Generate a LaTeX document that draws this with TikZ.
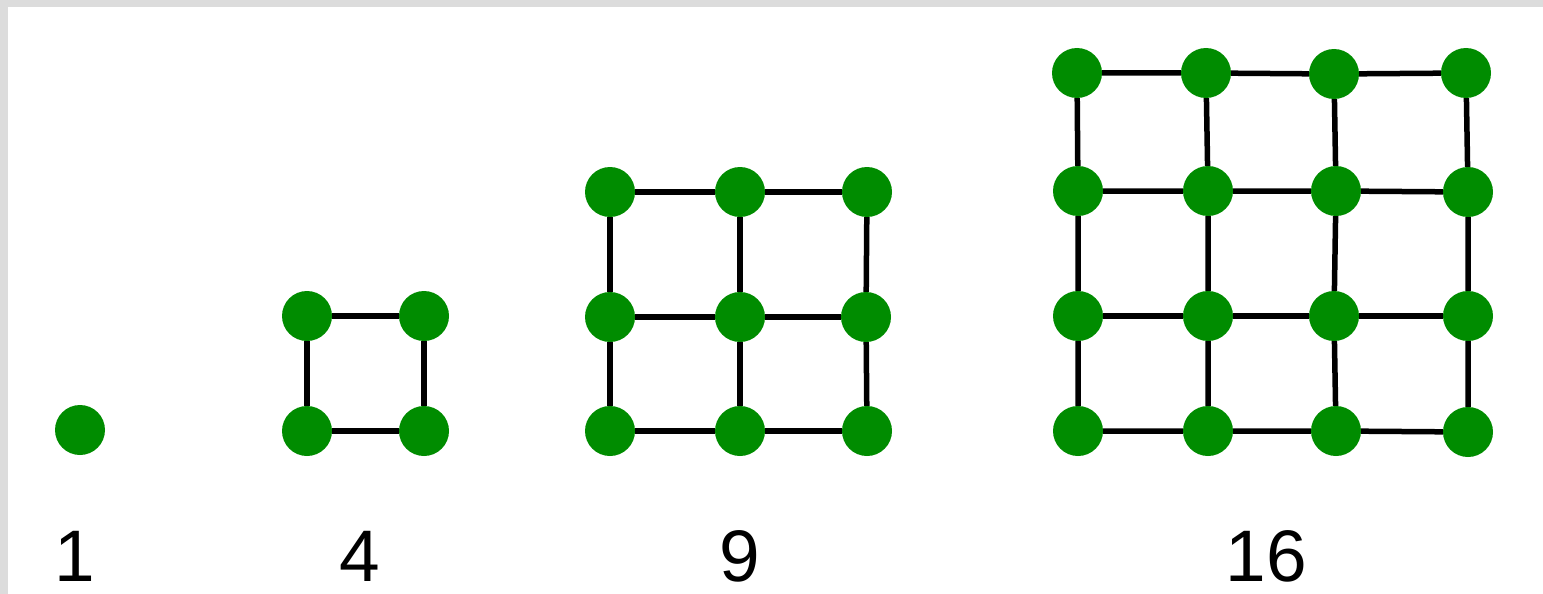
\documentclass[tikz,border=0pt]{standalone}
\usepackage{fontspec}
\setmainfont{Liberation Sans}
\definecolor{dotgreen}{RGB}{0,140,0}
\definecolor{framegray}{RGB}{220,220,220}
\begin{document}
\begin{tikzpicture}[x=1pt,y=-1pt,
  dot/.style={circle,fill=dotgreen,minimum size=50pt,inner sep=0pt,draw=none},
  link/.style={line width=5.5pt,black},
  numlabel/.style={anchor=base,font=\fontsize{73}{80}\selectfont,inner sep=0pt}]
\useasboundingbox (0,0) rectangle (1543,594);
\fill[white] (0,0) rectangle (1543,594);
\fill[framegray] (0,0) rectangle (1543,7);
\fill[framegray] (0,0) rectangle (8,594);
% single
\node[dot] (a) at (80,430) {};
% 2x2
\node[dot] (b11) at (307,316) {};
\node[dot] (b12) at (424,316) {};
\node[dot] (b21) at (307,431) {};
\node[dot] (b22) at (424,431) {};
% 3x3
\node[dot] (c11) at (610,192) {};
\node[dot] (c12) at (740,192) {};
\node[dot] (c13) at (867,192) {};
\node[dot] (c21) at (610,317) {};
\node[dot] (c22) at (740,317) {};
\node[dot] (c23) at (866,317) {};
\node[dot] (c31) at (610,431) {};
\node[dot] (c32) at (740,431) {};
\node[dot] (c33) at (867,431) {};
% 4x4
\node[dot] (d11) at (1077,73) {};
\node[dot] (d12) at (1206,73) {};
\node[dot] (d13) at (1334,74) {};
\node[dot] (d14) at (1466,73) {};
\node[dot] (d21) at (1078,191) {};
\node[dot] (d22) at (1208,191) {};
\node[dot] (d23) at (1336,191) {};
\node[dot] (d24) at (1468,192) {};
\node[dot] (d31) at (1078,316) {};
\node[dot] (d32) at (1208,316) {};
\node[dot] (d33) at (1334,316) {};
\node[dot] (d34) at (1468,316) {};
\node[dot] (d41) at (1078,431) {};
\node[dot] (d42) at (1208,431) {};
\node[dot] (d43) at (1336,431) {};
\node[dot] (d44) at (1468,432) {};
% links 2x2
\draw[link] (b11) -- (b12) (b21) -- (b22) (b11) -- (b21) (b12) -- (b22);
% links 3x3
\foreach \r in {1,2,3}{
  \draw[link] (c\r1) -- (c\r2) -- (c\r3);
  \draw[link] (c1\r) -- (c2\r) -- (c3\r);
}
% links 4x4
\foreach \r in {1,2,3,4}{
  \draw[link] (d\r1) -- (d\r2) -- (d\r3) -- (d\r4);
  \draw[link] (d1\r) -- (d2\r) -- (d3\r) -- (d4\r);
}
% labels
\node[numlabel] (l1) at (75,581) {1};
\node[numlabel] (l4) at (360,581) {4};
\node[numlabel] (l9) at (740,581) {9};
\node[numlabel] (l16) at (1266,581) {16};
\end{tikzpicture}
\end{document}
